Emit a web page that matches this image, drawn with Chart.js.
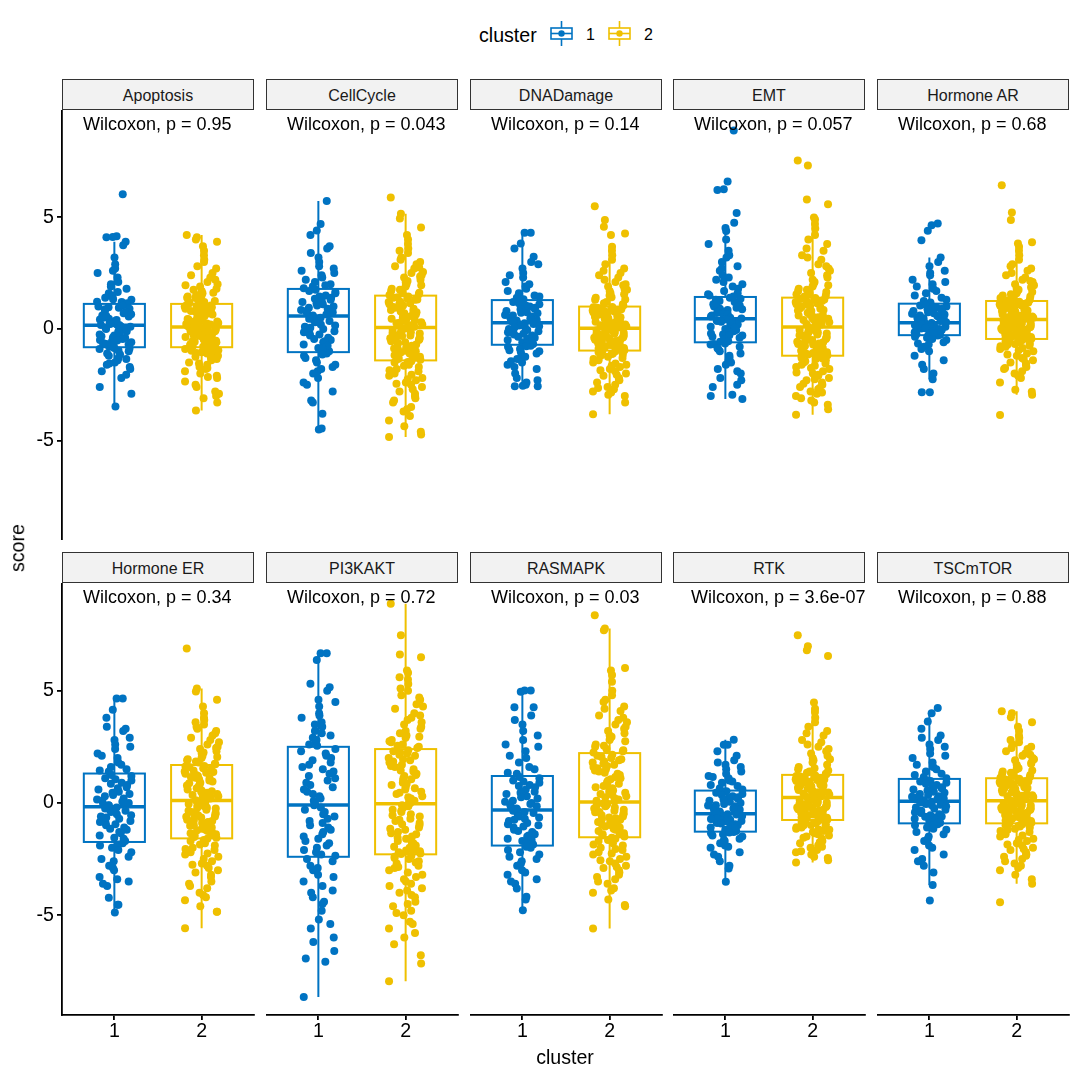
<!DOCTYPE html>
<html>
<head>
<meta charset="utf-8">
<script src="https://cdn.jsdelivr.net/npm/chart.js@4.4.1/dist/chart.umd.min.js"></script>
<style>
  body { margin: 0; background: #fff; }
  #fig { position: relative; width: 1080px; height: 1080px; background: #fff; overflow: hidden;
         font-family: "Liberation Sans", Arial, sans-serif; color: #000; }
  #fig canvas { position: absolute; }
  .strip { position: absolute; height: 31px; box-sizing: border-box; border: 1.5px solid #333;
           background: #f2f2f2; font-size: 16px; color: #1a1a1a; text-align: center; line-height: 31px; }
  .lbl { position: absolute; white-space: nowrap; line-height: 1; }
</style>
</head>
<body>
<div id="fig"></div>
<script>
// facets and test results
const panels = ['Apoptosis', 'CellCycle', 'DNADamage', 'EMT', 'Hormone AR',
                'Hormone ER', 'PI3KAKT', 'RASMAPK', 'RTK', 'TSCmTOR'];
const pValues = ['0.95', '0.043', '0.14', '0.057', '0.68', '0.34', '0.72', '0.03', '3.6e-07', '0.88'];
const clusters = ['1', '2'];
const yTicks = [-5, 0, 5];

// box stats per panel: [lower whisker, q1, median, q3, upper whisker]
const box1 = [
  [-3.47, -0.82, 0.16, 1.12, 3.9], [-4.5, -1.04, 0.58, 1.79, 5.73], [-2.57, -0.71, 0.28, 1.29, 4.3],
  [-3.14, -0.6, 0.45, 1.43, 4.38], [-2.25, -0.28, 0.28, 1.13, 3.2], [-4.88, -1.74, -0.17, 1.31, 4.65],
  [-8.65, -2.4, -0.09, 2.5, 6.67], [-4.78, -1.9, -0.31, 1.2, 5.01], [-3.51, -1.28, -0.48, 0.55, 2.81],
  [-3.66, -0.91, 0.08, 1.07, 4.0]
];
const box2 = [
  [-3.65, -0.82, 0.08, 1.12, 4.2], [-4.84, -1.41, 0.06, 1.49, 5.16], [-3.82, -0.97, 0.03, 1.0, 3.68],
  [-3.84, -1.2, 0.09, 1.4, 4.99], [-2.95, -0.45, 0.42, 1.25, 3.68], [-5.58, -1.58, 0.11, 1.69, 5.1],
  [-7.95, -2.29, -0.04, 2.4, 8.87], [-5.6, -1.53, 0.04, 2.22, 7.77], [-2.65, -0.76, 0.24, 1.25, 4.2],
  [-3.6, -0.91, 0.1, 1.1, 4.08]
];

// scores, cluster 1 / cluster 2
const apoptosis1 = [6.03, 4.15, 4.12, 4.1, 3.9, 3.75, 3.2, 2.9, 2.7, 2.5, 2.3, 2.1, 2.0, 1.8, 1.6, 1.5, 1.4, 1.3, 1.2, 1.15,
  1.1, 1.0, 0.95, 0.9, 0.8, 0.7, 0.6, 0.55, 0.5, 0.45, 0.4, 0.3, 0.25, 0.2, 0.18, 0.17, 0.1, 0.05, 0.0, -0.05, -0.1, -0.2,
  -0.25, -0.3, -0.4, -0.45, -0.5, -0.55, -0.6, -0.7, -0.75, -0.8, -0.85, -0.9, -1.0, -1.1, -1.2, -1.3, -1.4, -1.5, -1.6,
  -1.7, -1.8, -1.9, -2.2, -2.6, -2.9, -3.47,
  1.9, 1.65, 1.45, 1.33, 1.22, 1.05, 0.97, 0.88, 0.76, 0.66, 0.58, 0.42, 0.35, 0.22, 0.12, 0.03, -0.08, -0.15, -0.33,
  -0.38, -0.52, -0.63, -0.68, -0.88, -0.97, -1.15, -1.35, -1.55, -2.05, 2.6];
const apoptosis2 = [4.2, 4.1, 4.0, 3.9, 3.7, 3.5, 3.3, 3.1, 3.0, 2.8, 2.7, 2.5, 2.4, 2.3, 2.1, 2.0, 1.9, 1.8, 1.7, 1.6, 1.5,
  1.45, 1.4, 1.3, 1.25, 1.2, 1.15, 1.1, 1.05, 1.0, 0.95, 0.9, 0.85, 0.8, 0.75, 0.7, 0.65, 0.6, 0.55, 0.5, 0.47, 0.44, 0.4,
  0.37, 0.33, 0.3, 0.27, 0.24, 0.2, 0.17, 0.14, 0.12, 0.1, 0.09, 0.07, 0.05, 0.02, 0.0, -0.03, -0.06, -0.1, -0.13, -0.17,
  -0.2, -0.24, -0.28, -0.3, -0.34, -0.38, -0.42, -0.45, -0.5, -0.53, -0.57, -0.6, -0.64, -0.68, -0.71, -0.75, -0.78, -0.81,
  -0.85, -0.9, -0.95, -1.0, -1.05, -1.1, -1.2, -1.25, -1.3, -1.4, -1.5, -1.6, -1.7, -1.8, -1.9, -2.0, -2.1, -2.2, -2.35,
  -2.5, -2.6, -2.8, -2.9, -3.0, -3.1, -3.3, -3.65,
  2.2, 1.95, 1.75, 1.62, 1.52, 1.38, 1.28, 1.18, 1.08, 1.02, 0.97, 0.92, 0.87, 0.82, 0.77, 0.72, 0.62, 0.57, 0.52, 0.42,
  0.35, 0.28, 0.22, 0.15, 0.11, 0.06, 0.03, -0.01, -0.08, -0.12, -0.19, -0.22, -0.27, -0.32, -0.36, -0.41, -0.47, -0.55,
  -0.62, -0.66, -0.73, -0.8, -0.88, -0.98, -1.08, -1.18, -1.35, -1.55, -1.75, -2.15];
const cellCycle1 = [5.73, 4.7, 4.4, 4.2, 3.7, 3.6, 3.2, 3.0, 2.8, 2.6, 2.4, 2.3, 2.1, 2.0, 1.9, 1.75, 1.7, 1.6, 1.5, 1.4,
  1.3, 1.2, 1.1, 1.0, 0.95, 0.9, 0.8, 0.75, 0.7, 0.6, 0.5, 0.4, 0.3, 0.2, 0.1, 0.0, -0.1, -0.2, -0.3, -0.4, -0.5, -0.6,
  -0.7, -0.85, -1.0, -1.1, -1.2, -1.4, -1.6, -1.7, -1.9, -2.0, -2.2, -2.4, -2.8, -3.2, -3.3, -3.8, -4.46, -4.5,
  3.4, 2.7, 2.5, 2.2, 1.95, 1.82, 1.65, 1.45, 1.35, 1.25, 1.15, 1.05, 0.85, 0.65, 0.55, 0.45, 0.35, 0.15, 0.05, -0.15,
  -0.25, -0.45, -0.55, -0.75, -0.9, -1.15, -1.3, -1.5, -1.8, -2.5];
const cellCycle2 = [5.88, 5.16, 4.94, 4.54, 4.2, 4.0, 3.8, 3.6, 3.4, 3.2, 3.0, 2.9, 2.8, 2.7, 2.5, 2.4, 2.3, 2.2, 2.1, 2.0,
  1.9, 1.8, 1.7, 1.6, 1.55, 1.45, 1.4, 1.35, 1.3, 1.2, 1.15, 1.1, 1.0, 0.95, 0.9, 0.8, 0.75, 0.7, 0.6, 0.55, 0.5, 0.45,
  0.4, 0.35, 0.3, 0.25, 0.2, 0.15, 0.1, 0.07, 0.04, 0.0, -0.05, -0.1, -0.15, -0.2, -0.3, -0.35, -0.4, -0.45, -0.5, -0.6,
  -0.65, -0.7, -0.8, -0.85, -0.9, -0.95, -1.0, -1.1, -1.15, -1.2, -1.25, -1.3, -1.38, -1.45, -1.5, -1.6, -1.7, -1.8, -1.9,
  -2.0, -2.1, -2.2, -2.3, -2.4, -2.5, -2.6, -2.8, -3.0, -3.1, -3.3, -3.5, -3.7, -3.9, -4.1, -4.36, -4.6, -4.73, -4.84,
  3.5, 3.1, 2.75, 2.55, 2.35, 2.15, 1.95, 1.75, 1.62, 1.52, 1.42, 1.32, 1.22, 1.12, 1.05, 0.98, 0.85, 0.78, 0.65, 0.58,
  0.48, 0.38, 0.28, 0.18, 0.12, 0.02, -0.08, -0.18, -0.25, -0.32, -0.42, -0.55, -0.62, -0.75, -0.88, -0.98, -1.05, -1.18,
  -1.28, -1.35, -1.48, -1.65, -1.85, -2.05, -2.25, -2.45, -2.7, -2.9, -3.2, -3.6];
const dnaDamage1 = [4.3, 4.3, 3.82, 3.6, 3.23, 3.0, 2.7, 2.5, 2.3, 2.1, 1.9, 1.8, 1.6, 1.5, 1.4, 1.25, 1.2, 1.1, 1.0, 0.95,
  0.9, 0.8, 0.75, 0.7, 0.6, 0.55, 0.5, 0.4, 0.35, 0.3, 0.25, 0.2, 0.15, 0.1, 0.0, -0.05, -0.1, -0.2, -0.25, -0.3, -0.4,
  -0.45, -0.5, -0.6, -0.68, -0.75, -0.8, -0.9, -1.0, -1.1, -1.2, -1.35, -1.5, -1.6, -1.8, -2.0, -2.2, -2.4, -2.5, -2.55,
  -2.57, -2.57,
  2.9, 2.4, 2.0, 1.7, 1.45, 1.33, 1.15, 1.05, 0.88, 0.72, 0.62, 0.48, 0.38, 0.32, 0.22, 0.12, 0.05, -0.15, -0.22, -0.35,
  -0.42, -0.55, -0.65, -0.78, -0.95, -1.05, -1.25, -1.45, -1.7, -2.3];
const dnaDamage2 = [5.49, 4.87, 4.57, 4.27, 4.2, 3.68, 3.5, 3.3, 3.1, 2.9, 2.7, 2.5, 2.4, 2.3, 2.1, 2.0, 1.9, 1.8, 1.7, 1.6,
  1.5, 1.4, 1.3, 1.2, 1.1, 0.98, 0.95, 0.9, 0.86, 0.82, 0.78, 0.74, 0.7, 0.65, 0.6, 0.56, 0.52, 0.48, 0.44, 0.4, 0.36,
  0.32, 0.28, 0.24, 0.2, 0.16, 0.12, 0.09, 0.06, 0.04, 0.02, -0.02, -0.06, -0.1, -0.14, -0.18, -0.22, -0.26, -0.3, -0.34,
  -0.38, -0.42, -0.46, -0.5, -0.54, -0.58, -0.62, -0.66, -0.7, -0.74, -0.78, -0.82, -0.86, -0.9, -0.95, -1.0, -1.05, -1.1,
  -1.15, -1.2, -1.3, -1.4, -1.5, -1.6, -1.7, -1.8, -1.9, -2.0, -2.1, -2.2, -2.3, -2.4, -2.5, -2.6, -2.7, -2.8, -2.95,
  -3.0, -3.3, -3.82,
  2.6, 2.2, 1.95, 1.75, 1.55, 1.42, 1.32, 1.15, 1.05, 0.97, 0.92, 0.88, 0.8, 0.72, 0.67, 0.62, 0.54, 0.46, 0.38, 0.3, 0.22,
  0.14, 0.07, 0.0, -0.04, -0.08, -0.16, -0.2, -0.28, -0.32, -0.4, -0.48, -0.52, -0.6, -0.64, -0.72, -0.8, -0.88, -0.92,
  -1.02, -1.12, -1.25, -1.35, -1.55, -1.65, -1.85, -2.05, -2.25, -2.65, -2.85];
const emt1 = [8.88, 6.6, 6.25, 6.22, 5.19, 4.75, 4.52, 4.38, 4.0, 3.8, 3.5, 3.3, 3.0, 2.8, 2.6, 2.4, 2.2, 2.0, 1.9, 1.8,
  1.6, 1.5, 1.4, 1.35, 1.3, 1.2, 1.1, 1.05, 1.0, 0.9, 0.85, 0.8, 0.7, 0.65, 0.6, 0.5, 0.47, 0.4, 0.35, 0.3, 0.2, 0.15,
  0.1, 0.0, -0.05, -0.1, -0.2, -0.25, -0.3, -0.4, -0.5, -0.58, -0.65, -0.7, -0.8, -0.9, -1.0, -1.2, -1.4, -1.6, -1.8,
  -2.0, -2.3, -2.6, -2.95, -3.0, -3.14,
  3.2, 2.7, 2.3, 2.1, 1.7, 1.55, 1.45, 1.25, 1.15, 0.95, 0.88, 0.75, 0.55, 0.42, 0.32, 0.25, 0.05, -0.15, -0.28, -0.35,
  -0.45, -0.55, -0.68, -0.85, -1.1, -1.3, -1.5, -1.9, -2.2, -2.5];
const emt2 = [7.54, 7.32, 5.79, 5.58, 4.99, 4.9, 4.7, 4.5, 4.2, 4.0, 3.8, 3.5, 3.3, 3.1, 2.9, 2.7, 2.5, 2.3, 2.2, 2.0, 1.9,
  1.8, 1.7, 1.6, 1.5, 1.38, 1.34, 1.3, 1.25, 1.2, 1.15, 1.1, 1.05, 1.0, 0.95, 0.9, 0.85, 0.8, 0.75, 0.7, 0.65, 0.6, 0.55,
  0.5, 0.45, 0.4, 0.3, 0.25, 0.2, 0.12, 0.06, 0.0, -0.05, -0.1, -0.15, -0.2, -0.25, -0.3, -0.35, -0.4, -0.45, -0.5, -0.55,
  -0.6, -0.65, -0.7, -0.75, -0.8, -0.85, -0.9, -0.95, -1.0, -1.05, -1.1, -1.18, -1.25, -1.3, -1.35, -1.4, -1.5, -1.55,
  -1.6, -1.7, -1.8, -1.9, -2.0, -2.1, -2.2, -2.3, -2.4, -2.5, -2.6, -2.7, -2.8, -2.9, -3.0, -3.2, -3.4, -3.6, -3.84,
  3.6, 3.2, 2.8, 2.6, 2.4, 2.1, 1.95, 1.75, 1.65, 1.55, 1.45, 1.32, 1.22, 1.12, 1.02, 0.92, 0.82, 0.72, 0.62, 0.52, 0.42,
  0.35, 0.22, 0.15, 0.03, -0.08, -0.18, -0.28, -0.38, -0.48, -0.58, -0.68, -0.78, -0.88, -0.98, -1.08, -1.15, -1.22,
  -1.32, -1.45, -1.65, -1.75, -1.95, -2.05, -2.25, -2.45, -2.65, -2.85, -3.1, -3.3];
const hormoneAR1 = [4.72, 4.64, 4.39, 3.97, 3.2, 3.0, 2.8, 2.5, 2.4, 2.2, 2.0, 1.8, 1.6, 1.4, 1.25, 1.1, 1.05, 1.0, 0.95,
  0.9, 0.85, 0.8, 0.7, 0.65, 0.6, 0.55, 0.5, 0.45, 0.38, 0.32, 0.26, 0.24, 0.2, 0.18, 0.15, 0.12, 0.1, 0.05, 0.02, 0.0,
  -0.05, -0.1, -0.15, -0.2, -0.26, -0.3, -0.35, -0.4, -0.5, -0.6, -0.7, -0.8, -1.0, -1.2, -1.4, -1.6, -1.8, -2.0, -2.25,
  -2.84, -2.84,
  2.6, 2.1, 1.9, 1.7, 1.5, 1.3, 1.18, 1.08, 0.98, 0.88, 0.75, 0.68, 0.58, 0.48, 0.4, 0.35, 0.3, 0.22, 0.16, 0.08, 0.03,
  -0.02, -0.08, -0.12, -0.18, -0.24, -0.32, -0.45, -0.65, -0.9];
const hormoneAR2 = [6.43, 5.21, 4.87, 3.88, 3.82, 3.68, 3.5, 3.3, 3.1, 2.9, 2.7, 2.6, 2.4, 2.3, 2.2, 2.1, 2.0, 1.9, 1.8,
  1.7, 1.6, 1.5, 1.4, 1.35, 1.3, 1.22, 1.2, 1.17, 1.14, 1.1, 1.06, 1.02, 0.98, 0.94, 0.9, 0.86, 0.82, 0.78, 0.75, 0.72,
  0.68, 0.65, 0.62, 0.58, 0.55, 0.52, 0.5, 0.47, 0.45, 0.43, 0.4, 0.37, 0.34, 0.3, 0.27, 0.24, 0.2, 0.17, 0.14, 0.1, 0.07,
  0.04, 0.0, -0.03, -0.06, -0.1, -0.13, -0.17, -0.2, -0.24, -0.28, -0.32, -0.36, -0.4, -0.44, -0.5, -0.55, -0.6, -0.65,
  -0.7, -0.75, -0.8, -0.9, -1.0, -1.1, -1.2, -1.3, -1.4, -1.5, -1.6, -1.7, -1.8, -1.9, -2.0, -2.2, -2.4, -2.72, -2.81,
  -2.95, -3.85,
  2.8, 2.5, 2.15, 1.95, 1.85, 1.75, 1.65, 1.55, 1.45, 1.38, 1.28, 1.18, 1.12, 1.04, 0.96, 0.88, 0.8, 0.73, 0.66, 0.6,
  0.53, 0.48, 0.44, 0.41, 0.38, 0.32, 0.25, 0.18, 0.12, 0.05, 0.02, -0.05, -0.12, -0.18, -0.22, -0.26, -0.3, -0.38,
  -0.42, -0.48, -0.58, -0.68, -0.78, -0.85, -0.95, -1.15, -1.35, -1.55, -1.75, -2.1];
const hormoneER1 = [4.65, 4.65, 4.15, 3.8, 3.3, 3.2, 2.8, 2.6, 2.4, 2.2, 2.0, 1.8, 1.6, 1.5, 1.4, 1.25, 1.1, 1.0, 0.9, 0.8,
  0.7, 0.6, 0.5, 0.4, 0.3, 0.2, 0.1, 0.0, -0.05, -0.12, -0.2, -0.3, -0.4, -0.5, -0.6, -0.7, -0.8, -0.9, -1.0, -1.1, -1.2,
  -1.3, -1.45, -1.55, -1.7, -1.8, -1.9, -2.0, -2.2, -2.4, -2.6, -2.8, -3.0, -3.3, -3.5, -3.7, -4.23, -4.54, -4.54, -4.88,
  3.4, 2.9, 2.5, 2.1, 1.7, 1.45, 1.2, 1.05, 0.85, 0.65, 0.45, 0.35, 0.15, 0.05, -0.1, -0.25, -0.35, -0.55, -0.65, -0.85,
  -0.95, -1.15, -1.35, -1.6, -1.85, -2.1, -2.5, -2.9, -3.4, -3.6];
const hormoneER2 = [6.88, 5.1, 4.97, 4.6, 4.3, 4.0, 3.8, 3.7, 3.5, 3.3, 3.2, 3.0, 2.9, 2.8, 2.6, 2.5, 2.4, 2.3, 2.2, 2.1,
  2.0, 1.95, 1.9, 1.8, 1.75, 1.65, 1.6, 1.55, 1.5, 1.4, 1.35, 1.3, 1.2, 1.15, 1.1, 1.0, 0.95, 0.9, 0.8, 0.75, 0.7, 0.6,
  0.55, 0.5, 0.4, 0.35, 0.3, 0.25, 0.2, 0.15, 0.08, 0.0, -0.05, -0.1, -0.2, -0.25, -0.3, -0.4, -0.45, -0.5, -0.6, -0.65,
  -0.7, -0.8, -0.85, -0.9, -1.0, -1.05, -1.1, -1.2, -1.25, -1.3, -1.4, -1.45, -1.55, -1.6, -1.7, -1.8, -1.9, -2.0, -2.1,
  -2.2, -2.3, -2.4, -2.6, -2.7, -2.8, -3.0, -3.1, -3.3, -3.5, -3.6, -3.8, -4.0, -4.2, -4.34, -4.6, -4.85, -4.85, -5.58,
  3.6, 3.4, 3.1, 2.7, 2.45, 2.25, 2.05, 1.85, 1.72, 1.62, 1.45, 1.38, 1.25, 1.12, 1.05, 0.88, 0.78, 0.65, 0.52, 0.45,
  0.32, 0.22, 0.12, 0.05, -0.02, -0.15, -0.22, -0.35, -0.42, -0.55, -0.62, -0.75, -0.82, -0.95, -1.02, -1.15, -1.22,
  -1.35, -1.42, -1.52, -1.65, -1.85, -2.05, -2.25, -2.5, -2.75, -2.9, -3.2, -3.7, -4.1];
const pi3kakt1 = [6.67, 6.67, 6.37, 5.31, 5.15, 5.0, 4.6, 4.3, 4.0, 3.8, 3.6, 3.4, 3.2, 3.0, 2.9, 2.7, 2.6, 2.4, 2.2, 2.0,
  1.8, 1.6, 1.5, 1.4, 1.2, 1.0, 0.9, 0.7, 0.5, 0.4, 0.2, 0.1, 0.0, -0.2, -0.3, -0.5, -0.6, -0.8, -1.0, -1.1, -1.2, -1.3,
  -1.5, -1.6, -1.8, -1.9, -2.1, -2.2, -2.35, -2.6, -2.9, -3.0, -3.2, -3.5, -3.9, -4.0, -4.2, -4.5, -4.8, -5.2, -5.6, -6.0,
  -6.6, -6.93, -7.08, -8.65,
  4.5, 3.9, 3.5, 3.1, 2.8, 2.55, 2.3, 2.1, 1.9, 1.7, 1.3, 1.1, 0.8, 0.6, 0.3, -0.1, -0.4, -0.7, -0.9, -1.4, -1.7, -2.0,
  -2.3, -2.5, -2.8, -3.3, -3.7, -4.4, -5.4, -6.2];
const pi3kakt2 = [8.87, 7.47, 6.61, 6.49, 5.9, 5.8, 5.5, 5.3, 5.0, 4.8, 4.6, 4.4, 4.2, 4.0, 3.8, 3.6, 3.5, 3.3, 3.2, 3.0,
  2.9, 2.8, 2.7, 2.6, 2.5, 2.35, 2.3, 2.2, 2.1, 2.0, 1.9, 1.8, 1.7, 1.6, 1.5, 1.4, 1.3, 1.2, 1.1, 1.0, 0.9, 0.8, 0.7, 0.6,
  0.5, 0.4, 0.3, 0.2, 0.1, 0.0, -0.1, -0.2, -0.3, -0.4, -0.5, -0.6, -0.7, -0.8, -0.9, -1.0, -1.1, -1.2, -1.3, -1.4, -1.5,
  -1.6, -1.7, -1.8, -1.9, -2.0, -2.05, -2.1, -2.15, -2.2, -2.25, -2.35, -2.4, -2.5, -2.6, -2.7, -2.8, -2.9, -3.0, -3.2,
  -3.3, -3.5, -3.6, -3.8, -4.0, -4.2, -4.4, -4.6, -4.8, -5.0, -5.3, -5.6, -6.0, -6.79, -7.16, -7.95,
  5.6, 5.1, 4.7, 4.3, 3.9, 3.7, 3.4, 3.1, 2.95, 2.75, 2.55, 2.45, 2.25, 2.15, 1.95, 1.85, 1.65, 1.45, 1.25, 1.05, 0.85,
  0.65, 0.45, 0.25, 0.05, -0.15, -0.35, -0.55, -0.75, -0.95, -1.15, -1.35, -1.55, -1.75, -1.95, -2.12, -2.28, -2.45,
  -2.65, -2.85, -3.1, -3.4, -3.7, -4.1, -4.5, -4.9, -5.4, -5.8, -6.3, -3.9];
const rasmapk1 = [5.01, 5.01, 4.95, 4.26, 4.26, 3.9, 3.5, 3.2, 2.8, 2.6, 2.3, 2.0, 1.8, 1.5, 1.3, 1.15, 1.0, 0.9, 0.8, 0.7,
  0.5, 0.4, 0.3, 0.2, 0.1, 0.0, -0.1, -0.15, -0.2, -0.28, -0.4, -0.5, -0.6, -0.7, -0.8, -0.9, -1.0, -1.1, -1.2, -1.3, -1.4,
  -1.5, -1.6, -1.7, -1.85, -2.0, -2.1, -2.2, -2.3, -2.5, -2.6, -2.8, -3.0, -3.2, -3.4, -3.6, -3.81, -4.18, -4.3, -4.78,
  3.7, 3.0, 2.5, 2.1, 1.6, 1.35, 1.1, 0.95, 0.75, 0.6, 0.45, 0.25, 0.05, -0.05, -0.25, -0.35, -0.45, -0.65, -0.75, -0.95,
  -1.05, -1.25, -1.45, -1.65, -1.8, -1.95, -2.4, -2.7, -3.1, -3.5];
const rasmapk2 = [8.36, 7.77, 7.7, 6.01, 5.9, 5.7, 5.4, 5.0, 4.8, 4.6, 4.3, 4.1, 3.9, 3.7, 3.5, 3.4, 3.2, 3.1, 3.0, 2.9,
  2.8, 2.6, 2.5, 2.4, 2.3, 2.15, 2.1, 2.0, 1.9, 1.8, 1.7, 1.6, 1.5, 1.4, 1.3, 1.2, 1.1, 1.0, 0.95, 0.9, 0.8, 0.7, 0.6, 0.5,
  0.45, 0.4, 0.3, 0.2, 0.15, 0.08, 0.0, -0.05, -0.1, -0.15, -0.2, -0.3, -0.35, -0.4, -0.45, -0.5, -0.6, -0.65, -0.7, -0.75,
  -0.8, -0.9, -0.95, -1.0, -1.1, -1.15, -1.2, -1.3, -1.35, -1.4, -1.5, -1.6, -1.7, -1.8, -1.9, -2.0, -2.1, -2.2, -2.3,
  -2.4, -2.5, -2.6, -2.7, -2.8, -2.9, -3.0, -3.1, -3.3, -3.4, -3.6, -3.8, -4.0, -4.3, -4.55, -4.6, -5.6,
  4.5, 4.2, 3.8, 3.6, 3.3, 2.95, 2.75, 2.55, 2.35, 2.25, 2.05, 1.95, 1.85, 1.75, 1.65, 1.55, 1.45, 1.35, 1.25, 1.15, 1.05,
  0.85, 0.75, 0.65, 0.55, 0.35, 0.25, 0.1, -0.02, -0.12, -0.25, -0.42, -0.55, -0.68, -0.85, -0.98, -1.05, -1.25, -1.38,
  -1.45, -1.55, -1.65, -1.85, -2.05, -2.25, -2.55, -2.85, -3.2, -3.5, -3.9];
const rtk1 = [2.81, 2.59, 2.59, 2.3, 2.1, 1.9, 1.7, 1.5, 1.3, 1.2, 1.1, 1.0, 0.9, 0.75, 0.65, 0.5, 0.45, 0.4, 0.3, 0.25,
  0.2, 0.1, 0.05, 0.0, -0.1, -0.15, -0.2, -0.3, -0.35, -0.42, -0.5, -0.55, -0.6, -0.65, -0.7, -0.75, -0.8, -0.85, -0.9,
  -0.95, -1.0, -1.05, -1.1, -1.2, -1.25, -1.3, -1.35, -1.4, -1.5, -1.6, -1.7, -1.8, -1.9, -2.0, -2.2, -2.4, -2.6, -2.8,
  -2.92, -3.51,
  1.8, 1.6, 1.4, 1.15, 0.95, 0.8, 0.6, 0.52, 0.35, 0.22, 0.15, -0.05, -0.12, -0.25, -0.38, -0.45, -0.52, -0.58, -0.68,
  -0.72, -0.82, -0.92, -1.02, -1.12, -1.18, -1.32, -1.45, -1.65, -1.95, -2.3];
const rtk2 = [7.47, 6.98, 6.8, 6.55, 4.47, 4.2, 4.05, 3.8, 3.6, 3.4, 3.2, 3.0, 2.8, 2.7, 2.5, 2.4, 2.2, 2.1, 2.0, 1.9, 1.8,
  1.6, 1.5, 1.4, 1.3, 1.22, 1.18, 1.14, 1.1, 1.06, 1.02, 0.98, 0.94, 0.9, 0.86, 0.82, 0.78, 0.74, 0.7, 0.66, 0.62, 0.58,
  0.54, 0.5, 0.46, 0.42, 0.38, 0.34, 0.3, 0.26, 0.22, 0.18, 0.14, 0.1, 0.06, 0.02, -0.02, -0.06, -0.1, -0.14, -0.18,
  -0.22, -0.26, -0.3, -0.34, -0.38, -0.42, -0.46, -0.5, -0.54, -0.58, -0.62, -0.66, -0.7, -0.74, -0.8, -0.85, -0.9,
  -0.95, -1.0, -1.05, -1.1, -1.15, -1.2, -1.25, -1.3, -1.4, -1.45, -1.5, -1.6, -1.7, -1.8, -1.9, -2.0, -2.1, -2.2, -2.3,
  -2.45, -2.55, -2.65,
  3.1, 2.6, 2.3, 1.95, 1.7, 1.55, 1.45, 1.35, 1.28, 1.2, 1.12, 1.04, 0.96, 0.92, 0.84, 0.76, 0.68, 0.64, 0.56, 0.48, 0.44,
  0.36, 0.28, 0.24, 0.16, 0.08, 0.04, -0.04, -0.08, -0.16, -0.2, -0.28, -0.32, -0.4, -0.44, -0.52, -0.56, -0.64, -0.72,
  -0.78, -0.88, -0.98, -1.08, -1.18, -1.35, -1.55, -1.75, -1.95, -2.15, -2.4];
const tscmtor1 = [4.23, 4.0, 3.63, 3.3, 3.0, 2.8, 2.6, 2.4, 2.2, 2.0, 1.8, 1.6, 1.4, 1.3, 1.15, 1.0, 0.95, 0.9, 0.8, 0.7,
  0.65, 0.6, 0.5, 0.45, 0.4, 0.3, 0.25, 0.2, 0.15, 0.1, 0.05, 0.0, -0.05, -0.1, -0.2, -0.25, -0.3, -0.4, -0.45, -0.5, -0.6,
  -0.65, -0.7, -0.8, -0.88, -0.95, -1.0, -1.1, -1.2, -1.4, -1.5, -1.7, -1.9, -2.1, -2.3, -2.5, -2.8, -3.1, -3.66, -4.35,
  2.9, 2.5, 2.1, 1.7, 1.5, 1.25, 1.1, 0.98, 0.85, 0.75, 0.55, 0.35, 0.28, 0.18, 0.12, 0.02, -0.08, -0.15, -0.35, -0.42,
  -0.55, -0.62, -0.75, -0.85, -0.98, -1.15, -1.3, -1.6, -2.0, -2.6];
const tscmtor2 = [4.08, 4.0, 3.82, 3.6, 3.4, 3.2, 3.0, 2.9, 2.7, 2.6, 2.5, 2.4, 2.3, 2.2, 2.1, 2.0, 1.9, 1.8, 1.7, 1.6, 1.5,
  1.4, 1.3, 1.2, 1.15, 1.08, 1.05, 1.0, 0.97, 0.93, 0.9, 0.86, 0.82, 0.78, 0.74, 0.7, 0.66, 0.62, 0.58, 0.54, 0.5, 0.46,
  0.42, 0.38, 0.34, 0.3, 0.26, 0.2, 0.16, 0.12, 0.08, 0.04, 0.0, -0.04, -0.08, -0.12, -0.16, -0.2, -0.24, -0.28, -0.32,
  -0.36, -0.4, -0.44, -0.48, -0.52, -0.56, -0.6, -0.64, -0.68, -0.72, -0.76, -0.8, -0.84, -0.88, -0.95, -1.0, -1.05, -1.1,
  -1.2, -1.3, -1.4, -1.5, -1.6, -1.7, -1.8, -1.9, -2.0, -2.1, -2.2, -2.3, -2.4, -2.5, -2.7, -2.8, -3.0, -3.2, -3.4, -3.6,
  -4.43,
  2.8, 2.45, 2.15, 1.95, 1.75, 1.55, 1.45, 1.35, 1.25, 1.12, 1.02, 0.95, 0.88, 0.8, 0.72, 0.64, 0.56, 0.48, 0.4, 0.32,
  0.24, 0.18, 0.1, 0.06, 0.02, -0.02, -0.06, -0.1, -0.14, -0.18, -0.22, -0.3, -0.38, -0.46, -0.54, -0.62, -0.7, -0.78,
  -0.86, -0.92, -1.02, -1.15, -1.25, -1.45, -1.65, -1.85, -2.05, -2.35, -2.6, -2.9];

const scores1 = [apoptosis1, cellCycle1, dnaDamage1, emt1, hormoneAR1, hormoneER1, pi3kakt1, rasmapk1, rtk1, tscmtor1];
const scores2 = [apoptosis2, cellCycle2, dnaDamage2, emt2, hormoneAR2, hormoneER2, pi3kakt2, rasmapk2, rtk2, tscmtor2];

// look
const COLORS = ['#0073C2', '#EFC000'];
const FONT = '"Liberation Sans", Arial, sans-serif';
const colLeft = [62, 266, 470, 673, 877];
const panelW = 192;
const rightPad = 14;   // room so the long p label is not cut
const rowTop = [110, 583];
const plotH = [430, 432];
const fig = document.getElementById('fig');

// ggpubr-style horizontal jitter (+/-0.2), from a fixed hash of the point index
function jitter(i, k) {
  const h = Math.sin((i + 1) * 12.9898 + (k + 1) * 78.233) * 43758.5453;
  return (h - Math.floor(h) - 0.5) * 0.4;
}

function addText(txt, left, top, size, extra) {
  const d = document.createElement('div');
  d.className = 'lbl';
  d.textContent = txt;
  d.style.left = left + 'px';
  d.style.top = top + 'px';
  d.style.fontSize = size + 'px';
  if (extra) Object.assign(d.style, extra);
  fig.appendChild(d);
  return d;
}

const boxPlugin = {
  id: 'boxes',
  beforeDatasetsDraw(chart, args, opts) {
    const { ctx, scales: { x, y } } = chart;
    [box1[opts.panel], box2[opts.panel]].forEach((b, k) => {
      const [lo, q1, med, q3, hi] = b;
      const cx = x.getPixelForValue(k + 1);
      const x0 = x.getPixelForValue(k + 1 - 0.35);
      const x1 = x.getPixelForValue(k + 1 + 0.35);
      const yTop = y.getPixelForValue(q3), yBot = y.getPixelForValue(q1);
      ctx.save();
      ctx.strokeStyle = COLORS[k];
      ctx.lineWidth = 2;
      ctx.beginPath();
      ctx.moveTo(cx, y.getPixelForValue(hi)); ctx.lineTo(cx, yTop);
      ctx.moveTo(cx, yBot); ctx.lineTo(cx, y.getPixelForValue(lo));
      ctx.stroke();
      ctx.fillStyle = '#fff';
      ctx.fillRect(x0, yTop, x1 - x0, yBot - yTop);
      ctx.strokeRect(x0, yTop, x1 - x0, yBot - yTop);
      ctx.lineWidth = 3.5;
      ctx.beginPath();
      ctx.moveTo(x0, y.getPixelForValue(med)); ctx.lineTo(x1, y.getPixelForValue(med));
      ctx.stroke();
      ctx.restore();
    });
  },
  afterDatasetsDraw(chart, args, opts) {
    const { ctx, chartArea } = chart;
    ctx.save();
    ctx.font = '18px ' + FONT;
    ctx.fillStyle = '#000';
    ctx.textBaseline = 'alphabetic';
    ctx.fillText('Wilcoxon, p = ' + pValues[opts.panel], chartArea.left + opts.labelDx, chartArea.top + 20);
    ctx.restore();
  }
};

panels.forEach((name, i) => {
  const row = Math.floor(i / 5), col = i % 5;
  const axisW = col === 0 ? 62 : 0;
  const axisH = row === 1 ? 32 : 0;

  // strip
  const s = document.createElement('div');
  s.className = 'strip';
  s.textContent = name;
  s.style.left = colLeft[col] + 'px';
  s.style.top = (rowTop[row] - 31) + 'px';
  s.style.width = panelW + 'px';
  fig.appendChild(s);

  const canvas = document.createElement('canvas');
  canvas.width = axisW + panelW + rightPad;
  canvas.height = plotH[row] + axisH;
  canvas.style.left = (colLeft[col] - axisW) + 'px';
  canvas.style.top = rowTop[row] + 'px';
  fig.appendChild(canvas);

  const datasets = [scores1[i], scores2[i]].map((vals, k) => ({
    label: clusters[k],
    data: vals.map((v, j) => ({ x: k + 1 + jitter(j, k), y: v })),
    backgroundColor: COLORS[k],
    borderWidth: 0,
    pointRadius: 4,
    pointHoverRadius: 4
  }));

  new Chart(canvas, {
    type: 'scatter',
    data: { datasets: datasets },
    options: {
      responsive: false,
      animation: false,
      events: [],
      layout: { padding: { left: 0, top: 0, bottom: 0, right: rightPad }, autoPadding: false },
      plugins: {
        legend: { display: false },
        tooltip: { enabled: false },
        boxes: { panel: i, labelDx: pValues[i].length > 5 ? 18 : 21 }
      },
      scales: {
        x: {
          type: 'linear', min: 0.4, max: 2.6,
          display: row === 1,
          afterBuildTicks: sc => { sc.ticks = clusters.map((c, k) => ({ value: k + 1 })); },
          afterFit: sc => { sc.height = axisH; sc.paddingLeft = 0; sc.paddingRight = 0; },
          ticks: {
            callback: v => clusters[v - 1],
            color: '#000', font: { size: 19.6, family: FONT }, padding: 0,
            maxRotation: 0, autoSkip: false
          },
          grid: { drawOnChartArea: false, drawTicks: true, tickLength: 5, color: '#000', lineWidth: 1.8 },
          border: { display: true, color: '#000', width: 1.8 }
        },
        y: {
          type: 'linear', min: -9.45, max: 9.8,
          display: col === 0,
          afterBuildTicks: sc => { sc.ticks = yTicks.map(v => ({ value: v })); },
          afterFit: sc => { sc.width = axisW; sc.paddingTop = 0; sc.paddingBottom = 0; },
          ticks: { color: '#000', font: { size: 19.6, family: FONT }, padding: 3 },
          grid: { drawOnChartArea: false, drawTicks: true, tickLength: 5, color: '#000', lineWidth: 1.8 },
          border: { display: true, color: '#000', width: 1.8 }
        }
      }
    },
    plugins: [boxPlugin]
  });
});

// axis titles
addText('cluster', 565, 1058, 19.6, { transform: 'translate(-50%, -50%)' });
addText('score', 18, 548, 19.6, { transform: 'translate(-50%, -50%) rotate(-90deg)' });

// legend
addText('cluster', 479, 37, 19.6, { transform: 'translateY(-55%)' });
[[548, '1', 586], [606, '2', 644]].forEach(([left, lab, tx], k) => {
  const c = COLORS[k];
  const svg = '<svg width="30" height="32" style="position:absolute;left:' + left + 'px;top:18px">' +
    '<line x1="13.5" y1="3" x2="13.5" y2="28" stroke="' + c + '" stroke-width="1.6"/>' +
    '<rect x="3" y="10" width="21" height="11" fill="#fff" stroke="' + c + '" stroke-width="1.6"/>' +
    '<line x1="3" y1="15.5" x2="24" y2="15.5" stroke="' + c + '" stroke-width="1.6"/>' +
    '<circle cx="13.5" cy="15.5" r="3.2" fill="' + c + '"/></svg>';
  fig.insertAdjacentHTML('beforeend', svg);
  addText(lab, tx, 36, 16, { transform: 'translateY(-55%)' });
});
</script>
</body>
</html>
